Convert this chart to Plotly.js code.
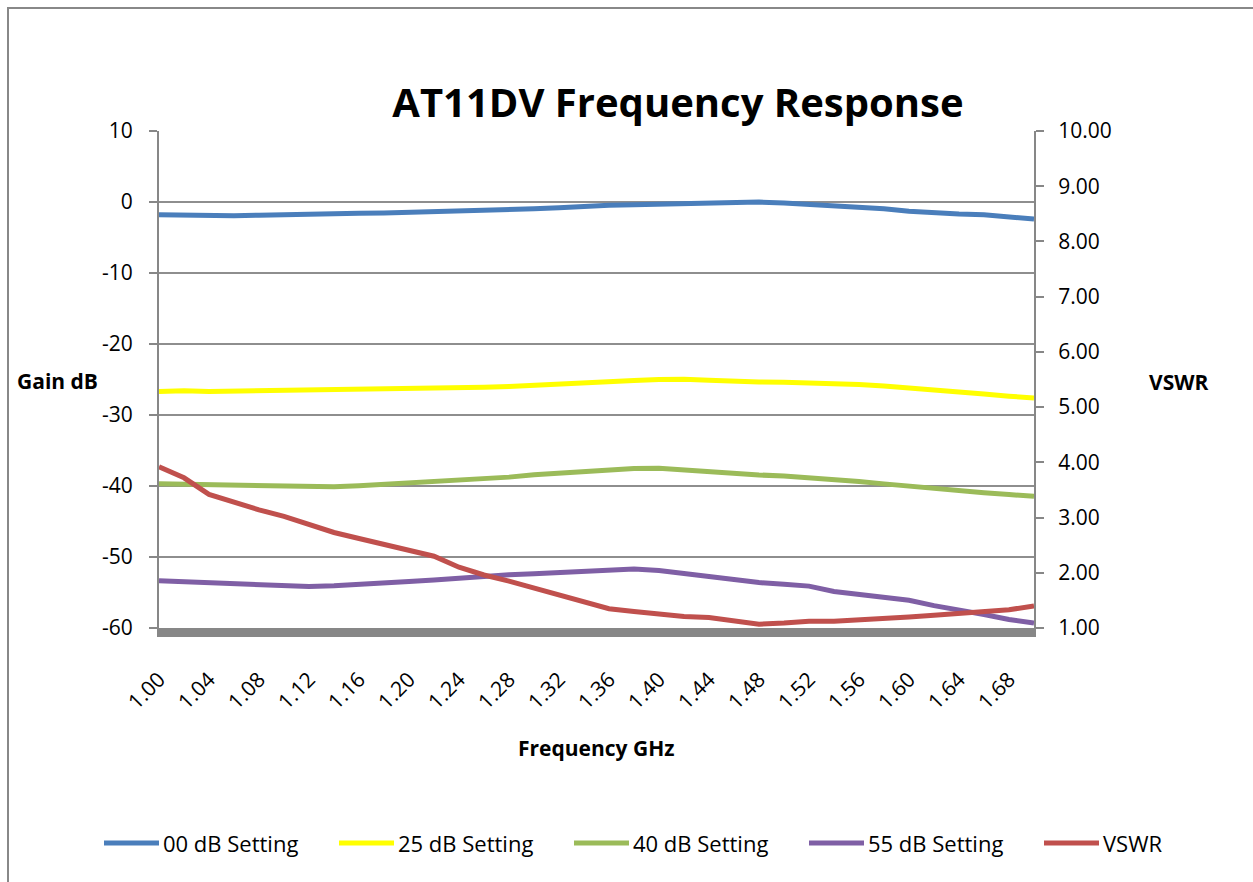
<!DOCTYPE html>
<html><head><meta charset="utf-8">
<script src="https://cdn.plot.ly/plotly-3.0.1.min.js"></script>
<style>html,body{margin:0;padding:0;background:#fff}#chart{width:1253px;height:882px}</style>
</head><body><div id="chart"></div>
<script>
const freqGHz = [1.00,1.02,1.04,1.06,1.08,1.10,1.12,1.14,1.16,1.18,1.20,1.22,1.24,1.26,1.28,1.30,1.32,1.34,1.36,1.38,1.40,1.42,1.44,1.46,1.48,1.50,1.52,1.54,1.56,1.58,1.60,1.62,1.64,1.66,1.68,1.70];
const gain00dB = [-1.8,-1.9,-1.85,-1.95,-1.85,-1.75,-1.7,-1.6,-1.6,-1.55,-1.45,-1.4,-1.35,-1.3,-1.05,-0.95,-0.8,-0.6,-0.45,-0.4,-0.3,-0.15,-0.05,0.05,0.0,-0.15,-0.35,-0.5,-0.7,-0.95,-1.3,-1.55,-1.7,-1.8,-2.1,-2.4];
const gain25dB = [-26.7,-26.6,-26.7,-26.65,-26.65,-26.6,-26.6,-26.5,-26.45,-26.4,-26.35,-26.25,-26.2,-26.1,-26.0,-25.8,-25.7,-25.5,-25.3,-25.15,-25.0,-24.95,-25.1,-25.3,-25.35,-25.4,-25.45,-25.55,-25.7,-25.9,-26.15,-26.45,-26.75,-27.05,-27.35,-27.6];
const gain40dB = [-39.7,-39.75,-39.95,-40.0,-40.05,-40.1,-40.15,-40.1,-39.95,-39.75,-39.6,-39.45,-39.3,-39.0,-38.75,-38.4,-38.15,-37.9,-37.7,-37.55,-37.5,-37.75,-38.05,-38.3,-38.45,-38.6,-38.8,-39.05,-39.35,-39.7,-40.05,-40.35,-40.65,-40.95,-41.2,-41.45];
const gain55dB = [-53.35,-53.5,-53.7,-53.8,-53.95,-54.1,-54.15,-54.05,-53.9,-53.7,-53.45,-53.25,-52.95,-52.75,-52.5,-52.35,-52.2,-52.0,-51.85,-51.7,-51.9,-52.35,-52.85,-53.3,-53.6,-53.85,-54.1,-54.85,-55.3,-55.8,-56.1,-56.85,-57.4,-58.1,-58.8,-59.3];
const vswr = [3.92,3.72,3.42,3.27,3.14,3.02,2.87,2.73,2.62,2.52,2.42,2.30,2.10,1.96,1.85,1.72,1.60,1.46,1.35,1.30,1.25,1.21,1.19,1.12,1.07,1.09,1.12,1.12,1.14,1.18,1.20,1.23,1.27,1.29,1.33,1.40];
const gainTickVals = [-60,-50,-40,-30,-20,-10,0,10];
const gainTickLabels = ['-60','-50','-40','-30','-20','-10','0','10'];
const seriesNames = ['00 dB Setting','25 dB Setting','40 dB Setting','55 dB Setting','VSWR'];
const seriesColors = ['#4a7ebb','#ffff00','#9bbb59','#7f5fa5','#c0504d'];

const FONT = '"Open Sans", Lato, Calibri, sans-serif';
const L = 159, R = 1034, T = 131, B = 628;
const px2x = p => (p - L) / (R - L);
const py2y = p => (B - p) / (B - T);

const gainSeries = [gain00dB, gain25dB, gain40dB, gain55dB];
const traces = gainSeries.map((ys, i) => ({
  x: freqGHz, y: ys, type: 'scatter', mode: 'lines', name: seriesNames[i],
  line: {color: seriesColors[i], width: 5}, yaxis: 'y'
}));
traces.push({x: freqGHz, y: vswr, type: 'scatter', mode: 'lines', name: seriesNames[4],
  line: {color: seriesColors[4], width: 5}, yaxis: 'y2'});

// legend drawn as shapes + text, one row, evenly spaced like the original
const legendY = py2y(843);
const legendShapes = seriesNames.map((n, i) => ({
  type: 'line', xref: 'paper', yref: 'paper', x0: px2x(104 + 235 * i), x1: px2x(159 + 235 * i),
  y0: legendY, y1: legendY, line: {color: seriesColors[i], width: 5}
}));
const legendTexts = seriesNames.map((n, i) => ({
  text: n, xref: 'paper', yref: 'paper', x: px2x(161 + 235 * i), y: legendY, showarrow: false,
  xanchor: 'left', yanchor: 'middle', font: {family: FONT, size: 22, color: '#000'}
}));

const layout = {
  width: 1253, height: 882,
  margin: {l: L, r: 1253 - R, t: T, b: 882 - B, pad: 0},
  paper_bgcolor: '#fff', plot_bgcolor: '#fff',
  font: {family: FONT, color: '#000', size: 21},
  title: {text: '<b>AT11DV Frequency Response</b>', font: {family: FONT, size: 40, color: '#000'},
    x: 678 / 1253, xref: 'container', xanchor: 'center', y: 1 - 103 / 882, yref: 'container', yanchor: 'middle'},
  xaxis: {range: [1.0, 1.70], dtick: 0.04, tick0: 1.0, tickformat: '.2f', tickangle: -45,
    showgrid: false, zeroline: false, showline: true, linecolor: '#878787', linewidth: 9,
    ticks: '', ticklabelstandoff: 22, tickfont: {family: FONT, size: 21, color: '#000'}},
  yaxis: {range: [-60, 10], tickmode: 'array', tickvals: gainTickVals, ticktext: gainTickLabels,
    showgrid: true, gridcolor: '#8e8e8e', gridwidth: 2,
    zeroline: false, showline: true, linecolor: '#878787', linewidth: 2,
    ticks: 'outside', ticklen: 8, tickwidth: 2, tickcolor: '#878787', ticklabelstandoff: 12,
    tickfont: {family: FONT, size: 21, color: '#000'}},
  yaxis2: {range: [1, 10], dtick: 1, tick0: 1, tickformat: '.2f', overlaying: 'y', side: 'right',
    showgrid: false, zeroline: false, showline: true, linecolor: '#878787', linewidth: 2,
    ticks: 'outside', ticklen: 8, tickwidth: 2, tickcolor: '#878787', ticklabelstandoff: 10,
    tickfont: {family: FONT, size: 21, color: '#000'}},
  showlegend: false,
  annotations: [
    {text: '<b>Gain dB</b>', xref: 'paper', yref: 'paper', x: px2x(57), y: py2y(381), showarrow: false,
      font: {family: FONT, size: 21, color: '#000'}, xanchor: 'center', yanchor: 'middle'},
    {text: '<b>VSWR</b>', xref: 'paper', yref: 'paper', x: px2x(1179), y: py2y(382), showarrow: false,
      font: {family: FONT, size: 21, color: '#000'}, xanchor: 'center', yanchor: 'middle'},
    {text: '<b>Frequency GHz</b>', xref: 'paper', yref: 'paper', x: px2x(596), y: py2y(748), showarrow: false,
      font: {family: FONT, size: 21, color: '#000'}, xanchor: 'center', yanchor: 'middle'}
  ].concat(legendTexts),
  shapes: [
    {type: 'rect', xref: 'paper', yref: 'paper', x0: px2x(8), x1: px2x(1320), y0: py2y(8), y1: py2y(940),
      line: {color: '#888', width: 2}, fillcolor: 'rgba(0,0,0,0)', layer: 'below'}
  ].concat(legendShapes)
};

Plotly.newPlot('chart', traces, layout, {displayModeBar: false, staticPlot: true});
</script>
</body></html>
